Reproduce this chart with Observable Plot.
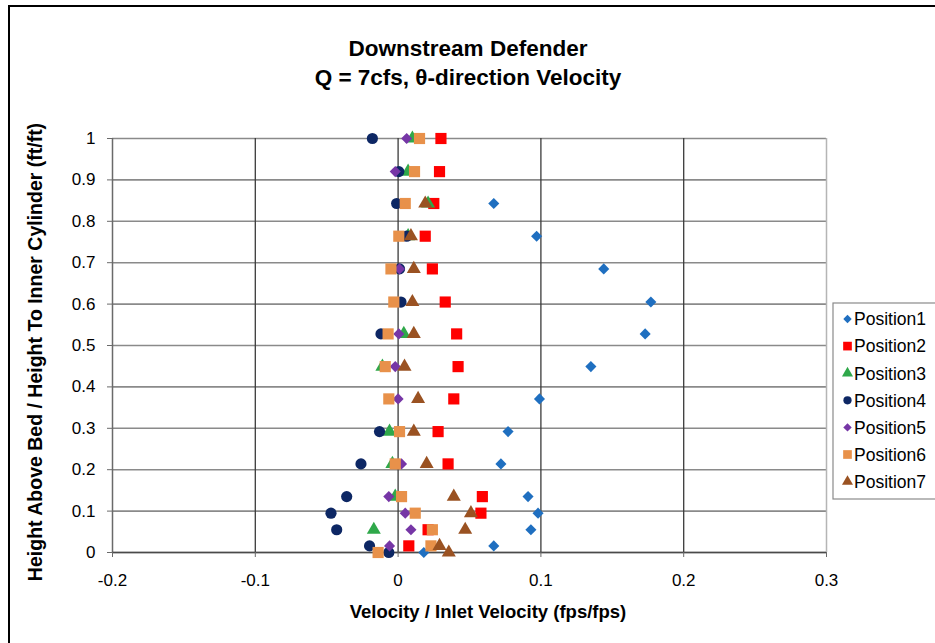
<!DOCTYPE html>
<html>
<head>
<meta charset="utf-8">
<script src="https://cdn.jsdelivr.net/npm/d3@7"></script>
<script src="https://cdn.jsdelivr.net/npm/@observablehq/plot@0.6"></script>
<style>
  html, body { margin: 0; padding: 0; background: #fff; }
  #chart svg { display: block; }
</style>
</head>
<body>
<div id="chart"></div>
<script>
// ---- data ----
const heights = [1.0, 0.92, 0.843, 0.764, 0.685, 0.605, 0.528, 0.449, 0.371, 0.292, 0.214, 0.135, 0.095, 0.055, 0.016, 0.0];
const position1 = [null, null, 0.067, 0.097, 0.144, 0.177, 0.173, 0.135, 0.099, 0.077, 0.072, 0.091, 0.098, 0.093, 0.067, 0.018];
const position2 = [0.030, 0.029, 0.025, 0.019, 0.024, 0.033, 0.041, 0.042, 0.039, 0.028, 0.035, 0.059, 0.058, 0.021, 0.0075, null];
const position3 = [0.010, 0.007, 0.021, 0.007, null, null, 0.004, -0.011, null, -0.006, -0.004, -0.002, null, -0.017, null, null];
const position4 = [-0.018, 0.0005, -0.001, 0.006, 0.001, 0.002, -0.012, null, null, -0.013, -0.026, -0.036, -0.047, -0.043, -0.020, -0.0065];
const position5 = [0.006, -0.002, null, null, 0.001, null, 0.0005, -0.002, 0.000, null, 0.0024, -0.0065, 0.005, 0.009, -0.006, null];
const position6 = [0.015, 0.0115, 0.005, 0.0005, -0.005, -0.003, -0.007, -0.009, -0.0065, 0.001, -0.002, 0.0024, 0.012, 0.024, 0.023, -0.014];
const position7 = [null, null, 0.019, 0.009, 0.011, 0.010, 0.011, 0.0045, 0.014, 0.011, 0.020, 0.039, 0.051, 0.047, 0.029, 0.0355];

const seriesNames = ["Position1", "Position2", "Position3", "Position4", "Position5", "Position6", "Position7"];
const seriesValues = [position1, position2, position3, position4, position5, position6, position7];

const xTicks = [-0.2, -0.1, 0, 0.1, 0.2, 0.3];
const xTickLabels = ["-0.2", "-0.1", "0", "0.1", "0.2", "0.3"];
const yTicks = [0, 0.1, 0.2, 0.3, 0.4, 0.5, 0.6, 0.7, 0.8, 0.9, 1];
const yTickLabels = ["0", "0.1", "0.2", "0.3", "0.4", "0.5", "0.6", "0.7", "0.8", "0.9", "1"];

const titleLines = ["Downstream Defender", "Q = 7cfs, \u03B8-direction Velocity"];
const xTitle = "Velocity / Inlet Velocity (fps/fps)";
const yTitle = "Height Above Bed / Height To Inner Cylinder (ft/ft)";

// ---- styles ----
const styles = [
  {symbol: "diamond2", fill: "#1F6FC0", r: 5.0, lr: 3.8},
  {symbol: "square", fill: "#FF0000", r: 6.3, lr: 4.9},
  {symbol: "triangle", fill: "#2FA84A", r: 5.2, lr: 4.1},
  {symbol: "circle", fill: "#0D2764", r: 5.6, lr: 4.1},
  {symbol: "diamond2", fill: "#7636A6", r: 5.0, lr: 3.8},
  {symbol: "square", fill: "#E8914A", r: 6.3, lr: 4.9},
  {symbol: "triangle", fill: "#9A5222", r: 5.2, lr: 4.1}
];

const rows = [];
seriesNames.forEach((name, i) => {
  seriesValues[i].forEach((v, j) => {
    if (v !== null) rows.push({series: name, idx: i, x: v, y: heights[j]});
  });
});

const font = "Liberation Sans, Arial, Helvetica, sans-serif";

const dotMarks = seriesNames.map((name, i) =>
  Plot.dot(rows.filter(d => d.idx === i), {
    x: "x", y: "y", symbol: styles[i].symbol, r: styles[i].r,
    fill: styles[i].fill, stroke: "none"
  })
);

const svg = Plot.plot({
  width: 935,
  height: 643,
  marginLeft: 112,
  marginRight: 109,
  marginTop: 138,
  marginBottom: 91,
  style: {fontFamily: font, background: "#fff", color: "#000", overflow: "visible"},
  x: {domain: [-0.2, 0.3]},
  y: {domain: [0, 1]},
  marks: [
    Plot.ruleY(yTicks, {stroke: "#8a8a8a", strokeWidth: 1.6}),
    Plot.ruleX([-0.1, 0, 0.1, 0.2], {stroke: "#3a3a3a", strokeWidth: 1.3}),
    Plot.ruleX([0.3], {stroke: "#b5b5b5", strokeWidth: 1.5}),
    Plot.ruleX([-0.2], {stroke: "#6a6a6a", strokeWidth: 1.5}),
    Plot.ruleY([0], {stroke: "#4a4a4a", strokeWidth: 1.5}),
    Plot.axisY({ticks: yTicks, tickSize: 5, tickPadding: 12, stroke: "#6a6a6a",
      tickFormat: d => yTickLabels[yTicks.indexOf(d)], fontSize: 17, label: null}),
    Plot.axisX({ticks: xTicks, tickSize: 5, tickPadding: 16, stroke: "#6a6a6a",
      tickFormat: d => xTickLabels[xTicks.findIndex(t => Math.abs(t - d) < 1e-9)], fontSize: 17, label: null}),
    ...dotMarks
  ]
});

const root = d3.select(svg);

// outer frame
root.append("rect").attr("x", 9).attr("y", 6).attr("width", 1000).attr("height", 1000)
  .attr("fill", "none").attr("stroke", "#000").attr("stroke-width", 2);

// title
titleLines.forEach((t, i) => {
  root.append("text").attr("x", 468).attr("y", 56 + i * 29)
    .attr("text-anchor", "middle").attr("font-family", font)
    .attr("font-size", 22.5).attr("font-weight", "bold").attr("fill", "#000").text(t);
});

// axis titles
root.append("text").attr("x", 488).attr("y", 618)
  .attr("text-anchor", "middle").attr("font-family", font)
  .attr("font-size", 18.5).attr("font-weight", "bold").attr("fill", "#000").text(xTitle);
root.append("text").attr("transform", "translate(42,352) rotate(-90)")
  .attr("text-anchor", "middle").attr("font-family", font)
  .attr("font-size", 19.5).attr("font-weight", "bold").attr("fill", "#000").text(yTitle);

// legend
const lg = root.append("g").attr("text-anchor", "start");
lg.append("rect").attr("x", 833).attr("y", 303).attr("width", 120).attr("height", 196)
  .attr("fill", "#fff").attr("stroke", "#8a8a8a").attr("stroke-width", 1.2);
const symMap = {diamond2: d3.symbolDiamond2, square: d3.symbolSquare, triangle: d3.symbolTriangle, circle: d3.symbolCircle};
seriesNames.forEach((name, i) => {
  const cy = 319 + i * 27.1;
  lg.append("path")
    .attr("d", d3.symbol(symMap[styles[i].symbol], Math.PI * styles[i].lr * styles[i].lr)())
    .attr("transform", `translate(847.5,${cy})`)
    .attr("fill", styles[i].fill);
  lg.append("text").attr("x", 854).attr("y", cy).attr("dy", "0.36em")
    .attr("text-anchor", "start")
    .attr("font-family", font).attr("font-size", 17.5).attr("fill", "#000").text(name);
});

document.getElementById("chart").appendChild(svg);
</script>
</body>
</html>
